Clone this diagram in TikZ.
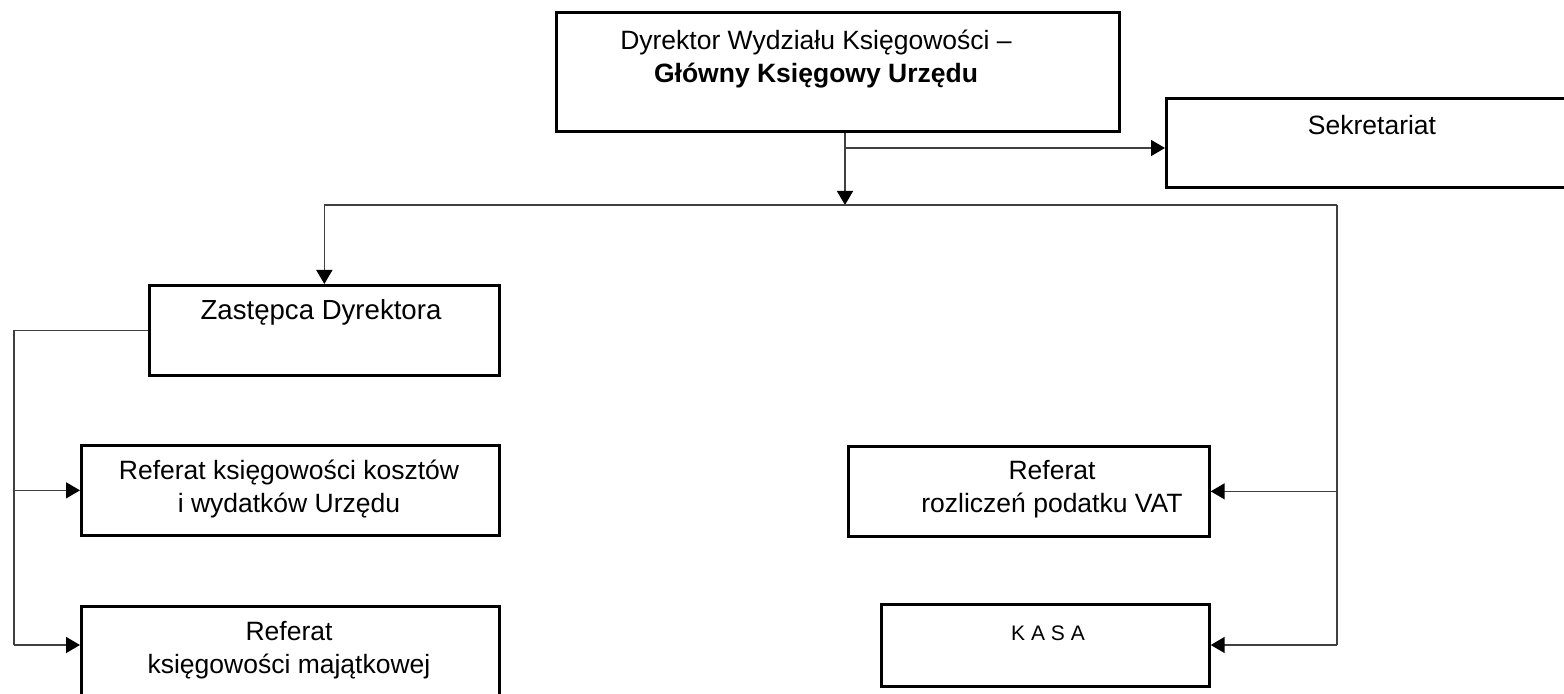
\documentclass[tikz,border=0pt]{standalone}
\usepackage{fontspec}
\setmainfont{Liberation Sans}
\usetikzlibrary{arrows.meta}
\begin{document}
\begin{tikzpicture}[x=0.5pt,y=-0.5pt,
  box/.style={draw=black, line width=1.35pt, inner sep=0pt, anchor=north west},
  lbl/.style={font=\fontsize{13.25}{16.5}\selectfont, align=center, inner sep=0pt},
  conn/.style={draw=black!75, line width=0.75pt},
  arr/.style={conn, -{Triangle[length=7pt,width=8pt,fill=black,color=black]}}]
\useasboundingbox (0,0) rectangle (1564,694);
% boxes
\node[box, minimum width=281.5pt, minimum height=59.5pt] (main) at (555,11) {};
\node[box, minimum width=207.5pt, minimum height=44.5pt] (sek) at (1165,97) {};
\node[box, minimum width=175pt, minimum height=45pt] (zast) at (148,284) {};
\node[box, minimum width=209pt, minimum height=45pt] (ref1) at (80,444) {};
\node[box, minimum width=209pt, minimum height=48.5pt] (ref2) at (80,605) {};
\node[box, minimum width=180.5pt, minimum height=45pt] (vat) at (847,445) {};
\node[box, minimum width=164pt, minimum height=41pt] (kasa) at (880,603) {};
% texts
\node[lbl] (tmain) at (816,59) {Dyrektor Wydziału Księgowości –\\\textbf{Główny Księgowy Urzędu}};
\node[lbl] (tsek) at (1372,125) {Sekretariat};
\node[lbl, font=\fontsize{13.8}{16.5}\selectfont] (tzast) at (321,312) {Zastępca Dyrektora};
\node[lbl] (tref1) at (289,489) {Referat księgowości kosztów\\i wydatków Urzędu};
\node[lbl] (tref2) at (289,650) {Referat\\księgowości majątkowej};
\node[lbl] (tvat) at (1052,489) {Referat\\rozliczeń podatku VAT};
\node[lbl, font=\fontsize{10.5}{12}\selectfont] (tkasa) at (1048,633) {K A S A};
% junctions
\coordinate (j1) at (845,205);
\coordinate (s1) at (845,148);
\coordinate (br) at (1337,205);
\coordinate (rb) at (1337,645);
\coordinate (ll) at (14,329);
\coordinate (lb) at (14,645);
% connectors
\draw[arr] (main.south -| j1) -- (j1);
\draw[arr] (s1) -- (s1 -| sek.west);
\draw[conn] (j1 -| zast.north) -- (br);
\draw[arr] (j1 -| zast.north) -- (zast.north);
\draw[conn] (br) -- (rb);
\draw[arr] (vat.east -| br) -- (vat.east);
\draw[arr] (rb) -- (rb -| kasa.east);
\draw[conn] (zast.west) -- (zast.west -| ll) -- (lb);
\draw[arr] (ref1.west -| ll) -- (ref1.west);
\draw[arr] (lb) -- (lb -| ref2.west);
\end{tikzpicture}
\end{document}
